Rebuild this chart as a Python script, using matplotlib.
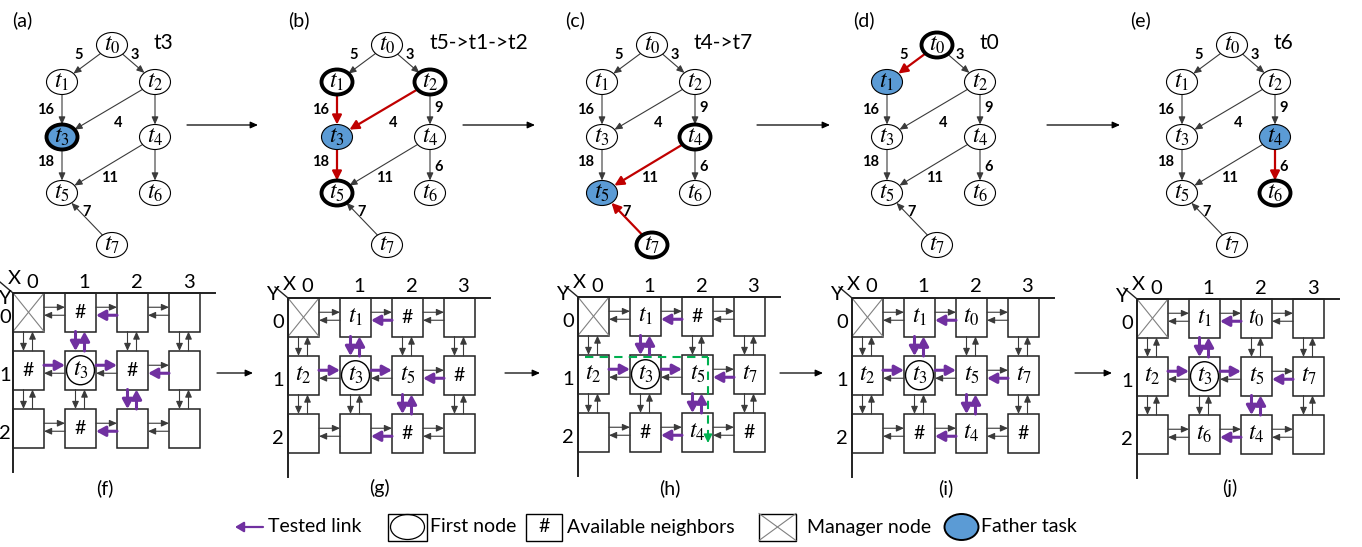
import numpy as np
import matplotlib
matplotlib.use("Agg")
import matplotlib.pyplot as plt
from matplotlib.patches import Ellipse, Rectangle, FancyArrowPatch

plt.rcParams['font.family'] = ['Lato', 'DejaVu Sans']
plt.rcParams['mathtext.fontset'] = 'stix'

# ---- task graph ----
edges = [('t0', 't1'), ('t0', 't2'), ('t1', 't3'), ('t2', 't3'), ('t2', 't4'),
         ('t3', 't5'), ('t4', 't5'), ('t4', 't6'), ('t7', 't5')]
edge_costs = [5, 3, 16, 4, 9, 18, 11, 6, 7]

dag_tags = ['(a)', '(b)', '(c)', '(d)', '(e)']
dag_notes = ['t3', 't5->t1->t2', 't4->t7', 't0', 't6']
father_task = ['t3', 't3', 't5', 't1', 't4']
checked_tasks = [['t3'], ['t1', 't2', 't5'], ['t4', 't7'], ['t0'], ['t6']]
red_links = [[], [('t1', 't3'), ('t2', 't3'), ('t3', 't5')],
             [('t4', 't5'), ('t7', 't5')], [('t0', 't1')], [('t4', 't6')]]
no_cost_label = [[('t2', 't4'), ('t4', 't6')], [], [], [], []]

# ---- mesh mapping (rows y=0..2, columns x=0..3) ----
# 'M' manager node, '#' available neighbour, '*tN' first node
mesh_tags = ['(f)', '(g)', '(h)', '(i)', '(j)']
mesh_cells = [
    [['M', '#', '', ''], ['#', '*t3', '#', ''], ['', '#', '', '']],
    [['M', 't1', '#', ''], ['t2', '*t3', 't5', '#'], ['', '', '#', '']],
    [['M', 't1', '#', ''], ['t2', '*t3', 't5', 't7'], ['', '#', 't4', '#']],
    [['M', 't1', 't0', ''], ['t2', '*t3', 't5', 't7'], ['', '#', 't4', '#']],
    [['M', 't1', 't0', ''], ['t2', '*t3', 't5', 't7'], ['', 't6', 't4', '']],
]
tested_links = [((0, 1), (1, 1)), ((1, 1), (2, 1)), ((3, 1), (2, 1)),
                ((2, 0), (1, 0)), ((2, 2), (1, 2)),
                ((1, 0), (1, 1)), ((1, 1), (1, 0)),
                ((2, 1), (2, 2)), ((2, 2), (2, 1))]

legend_labels = ['Tested link', 'First node', 'Available neighbors',
                 'Manager node', 'Father task']

# ---- layout ----
node_pos = {'t0': (0, 0), 't1': (-50, 37), 't2': (43, 37), 't3': (-50, 92),
            't4': (43, 92), 't5': (-50, 148), 't6': (43, 148), 't7': (0, 200)}
cost_pos = [(-33, 10), (23, 10), (-66, 65), (6, 78), (52, 63),
            (-66, 117), (-2, 133), (52, 122), (-25, 167)]
dag_x = [112, 387, 652, 937, 1232]
dag_y = 45
tag_x = [12, 288, 565, 853, 1130]
mesh_corner = [(13, 293), (288, 298), (578, 297), (852, 298), (1137, 299)]
mesh_tag_x = [105, 379, 670, 946, 1230]
PX, PY, CW, CH = 52, 58, 31, 38.5
NA, NB = 15.5, 12.5

PURPLE = '#7030a0'
RED = '#c00000'
BLUE = '#5b9bd5'
GRAY = '#3a3a3a'

fig = plt.figure(figsize=(13.62, 5.47), dpi=100)
ax = fig.add_axes([0, 0, 1, 1])
ax.set_xlim(0, 1362)
ax.set_ylim(547, 0)
ax.axis('off')


def arrow(p0, p1, color=GRAY, lw=0.8, hl=0.45, hw=0.2, z=3):
    ax.add_patch(FancyArrowPatch(p0, p1, arrowstyle=f'-|>,head_length={hl},head_width={hw}',
                                 mutation_scale=10, color=color, lw=lw,
                                 shrinkA=0, shrinkB=0, zorder=z))


def rim(c, d):
    dx, dy = d[0] - c[0], d[1] - c[1]
    k = 1 / np.hypot(dx / NA, dy / NB)
    return c[0] + k * dx, c[1] + k * dy


# task graphs (a)-(e)
for i in range(5):
    ox = dag_x[i]
    pos = {t: (ox + p[0], dag_y + p[1]) for t, p in node_pos.items()}
    for (s, d), cost, (lx, ly) in zip(edges, edge_costs, cost_pos):
        a, b = rim(pos[s], pos[d]), rim(pos[d], pos[s])
        if (s, d) in red_links[i]:
            arrow(a, b, RED, 1.6, 0.55, 0.28)
        else:
            arrow(a, b)
        if (s, d) not in no_cost_label[i]:
            ax.text(ox + lx, dag_y + ly, str(cost), fontsize=10.5, fontweight='bold',
                    ha='center', va='center')
    for t, (x, y) in pos.items():
        fc = BLUE if t == father_task[i] else 'white'
        thick = t in checked_tasks[i] or (i == 0 and t == father_task[i])
        ax.add_patch(Ellipse((x, y), 2 * NA, 2 * NB, fc=fc, ec='black',
                             lw=2.8 if thick else 0.8, zorder=4))
        ax.text(x, y, f'$t_{t[1]}$', fontsize=17, ha='center', va='center', zorder=5)
    ax.text(tag_x[i], 20, dag_tags[i], fontsize=14, ha='left', va='center')
    ax.text(ox + 42, 43, dag_notes[i], fontsize=15, ha='left', va='center')

for x0, x1 in [(187, 258), (463, 535), (757, 830), (1047, 1120)]:
    arrow((x0, 125), (x1, 125), 'black', 0.9)

# mesh panels (f)-(j)
for i in range(5):
    cx, cy = mesh_corner[i]

    def box(c, r):
        return cx + c * PX, cy + r * PY

    for r in range(3):
        for c in range(4):
            x, y = box(c, r)
            ax.add_patch(Rectangle((x, y), CW, CH, fc='white', ec='#222222', lw=1.1, zorder=2))
            item = mesh_cells[i][r][c]
            mx, my = x + CW / 2, y + CH / 2
            if item == 'M':
                ax.plot([x, x + CW], [y, y + CH], color='#808080', lw=0.8, zorder=3)
                ax.plot([x, x + CW], [y + CH, y], color='#808080', lw=0.8, zorder=3)
            elif item == '#':
                ax.text(mx, my, '#', fontsize=14, ha='center', va='center', zorder=4)
            elif item:
                if item.startswith('*'):
                    ax.add_patch(Ellipse((mx, my), 28, 29, fc='none', ec='black', lw=1.0, zorder=4))
                ax.text(mx, my, f'$t_{item[-1]}$', fontsize=17, ha='center', va='center', zorder=5)

    # links between neighbouring routers
    for r in range(3):
        for c in range(3):
            xl = box(c, r)[0] + CW
            xr = box(c + 1, r)[0]
            ym = box(c, r)[1] + CH / 2
            for src, dst, yy, p0, p1 in [((c, r), (c + 1, r), ym - 5, xl, xr),
                                         ((c + 1, r), (c, r), ym + 3, xr, xl)]:
                if (src, dst) in tested_links:
                    arrow((p0, yy), (p1, yy), PURPLE, 2.2, 0.55, 0.3)
                else:
                    arrow((p0, yy), (p1, yy))
    for r in range(2):
        for c in range(4):
            xm = box(c, r)[0] + CW / 2
            yt = box(c, r)[1] + CH
            yb = box(c, r + 1)[1]
            for src, dst, xx, p0, p1 in [((c, r), (c, r + 1), xm - 5, yt, yb),
                                         ((c, r + 1), (c, r), xm + 4, yb, yt)]:
                if (src, dst) in tested_links:
                    arrow((xx, p0), (xx, p1), PURPLE, 2.2, 0.55, 0.3)
                else:
                    arrow((xx, p0), (xx, p1))

    # coordinate axes
    ax.plot([cx, cx + 202], [cy, cy], color='#222222', lw=1.4, zorder=3)
    ax.plot([cx, cx], [cy, cy + 179], color='#222222', lw=1.4, zorder=3)
    ax.plot([cx - 13, cx], [cy - 11, cy], color='#222222', lw=1.0, zorder=3)
    ax.text(cx + 1, cy - 14, 'X', fontsize=14.5, ha='center', va='center')
    if cx - 16 >= 5:
        ax.text(cx - 16, cy - 3, 'Y', fontsize=14.5, ha='center', va='center')
    else:
        # leftmost panel: no room beside the corner, tuck Y underneath
        ax.text(4, cy + 5, 'Y', fontsize=14.5, ha='center', va='center')
    for c in range(4):
        ax.text(cx + c * PX + CW / 2 + 4, cy - 11, str(c), fontsize=14.5, ha='center', va='center')
    for r in range(3):
        ax.text(max(cx - 10, 5), cy + r * PY + CH / 2 + 5, str(r), fontsize=14.5,
                ha='center', va='center')
    ax.text(mesh_tag_x[i], 488, mesh_tags[i], fontsize=14, ha='center', va='center')

# search path of panel (h)
hx, hy = mesh_corner[2]
ax.plot([hx + 7, hx + 130], [hy + PY + 2, hy + PY + 2], color='#00b050', lw=1.5,
        dashes=(4, 3), zorder=6)
ax.plot([hx + 130, hx + 130], [hy + PY + 2, hy + 2 * PY + 25], color='#00b050', lw=1.5,
        dashes=(4, 3), zorder=6)
arrow((hx + 130, hy + 2 * PY + 24), (hx + 130, hy + 2 * PY + 30), '#00b050', 1.2, 0.5, 0.25, 6)

for x0, x1 in [(217, 253), (505, 540), (780, 823), (1075, 1112)]:
    arrow((x0, 373), (x1, 373), 'black', 0.9)

# legend
ly = 527
arrow((263, ly), (235, ly), PURPLE, 1.6, 0.5, 0.3)
ax.text(268, ly, legend_labels[0], fontsize=14, ha='left', va='center')
ax.add_patch(Rectangle((388, ly - 13.5), 39, 27, fc='white', ec='black', lw=1.0))
ax.add_patch(Ellipse((407.5, ly), 34, 25, fc='none', ec='black', lw=0.9))
ax.text(430, ly, legend_labels[1], fontsize=14, ha='left', va='center')
ax.add_patch(Rectangle((526, ly - 13.5), 36, 27, fc='white', ec='black', lw=1.0))
ax.text(544, ly, '#', fontsize=14, ha='center', va='center')
ax.text(567, ly, legend_labels[2], fontsize=14, ha='left', va='center')
ax.add_patch(Rectangle((759, ly - 13.5), 37, 27, fc='white', ec='black', lw=1.0))
ax.plot([759, 796], [ly - 13.5, ly + 13.5], color='#808080', lw=0.8)
ax.plot([759, 796], [ly + 13.5, ly - 13.5], color='#808080', lw=0.8)
ax.text(807, ly, legend_labels[3], fontsize=14, ha='left', va='center')
ax.add_patch(Ellipse((961.5, ly), 34, 26, fc=BLUE, ec='black', lw=1.4))
ax.text(981, ly, legend_labels[4], fontsize=14, ha='left', va='center')

fig.savefig('out.png', dpi=100, facecolor='white')
